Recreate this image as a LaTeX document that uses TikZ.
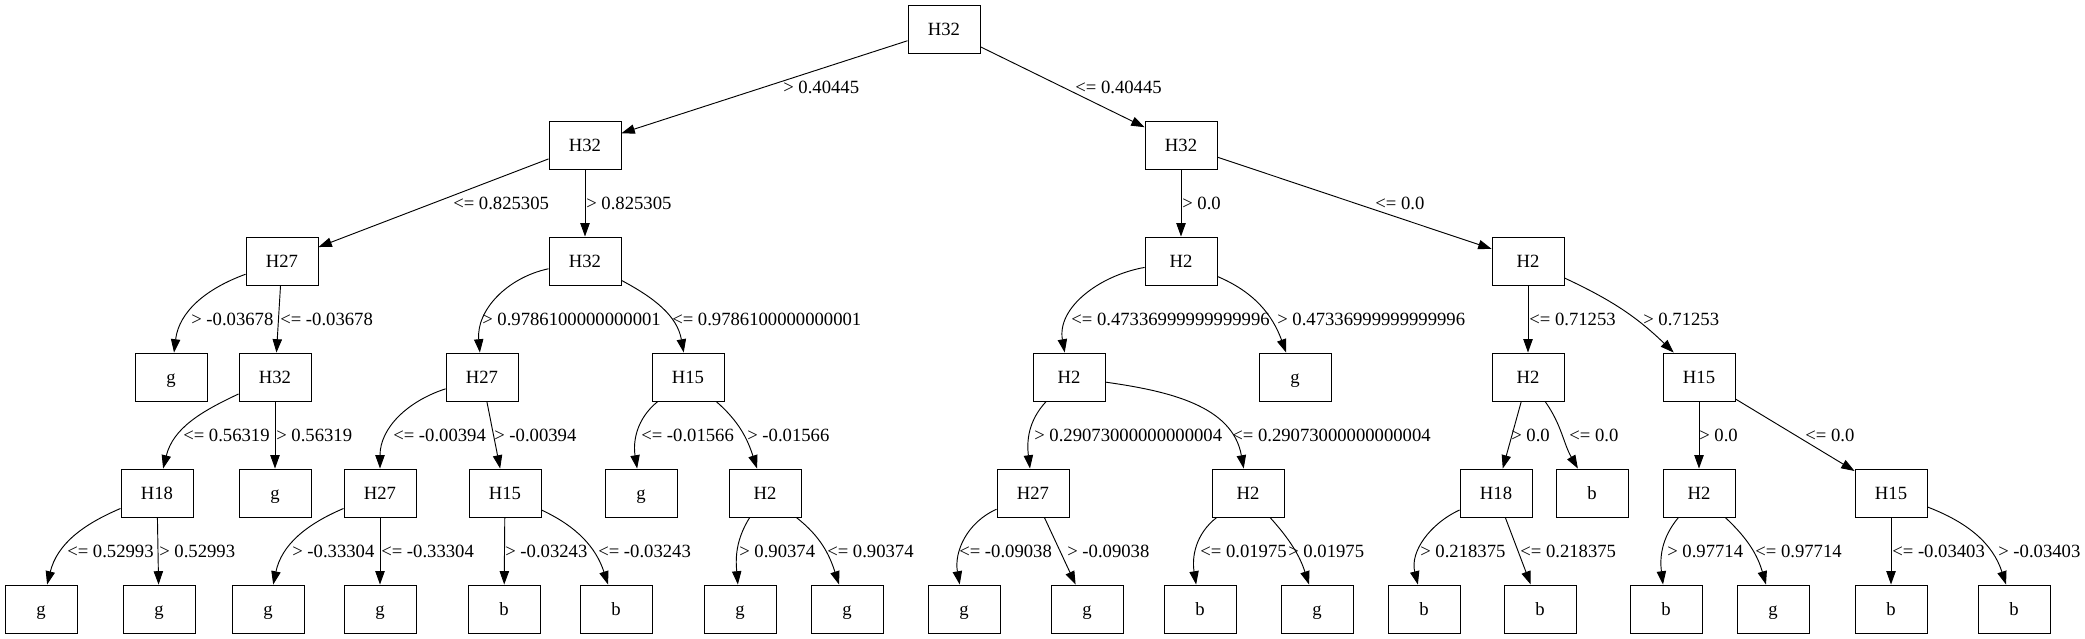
\documentclass[tikz,border=0pt]{standalone}
\usepackage{fontspec}
\setmainfont{Liberation Serif}
\usetikzlibrary{arrows.meta}
\tikzset{
  box/.style={draw,line width=0.7pt,minimum width=54pt,minimum height=36pt,inner sep=0pt,
    text height=9.3pt,text depth=0pt,font=\fontsize{14}{16}\selectfont},
  lbl/.style={anchor=west,inner sep=0pt,text height=9.3pt,text depth=0pt,font=\fontsize{14}{16}\selectfont},
  link/.style={line width=0.7pt,-{Triangle[length=10pt,width=7pt]}}
}
\begin{document}
\begin{tikzpicture}[x=0.75pt,y=0.75pt]
  \useasboundingbox (0,0) rectangle (2085,-639);
  \foreach \n/\x/\t in {a1/944/H32}
    \node[box] (\n) at (\x,-29) {\t};
  \foreach \n/\x/\t in {b1/585/H32,b2/1181/H32}
    \node[box] (\n) at (\x,-145) {\t};
  \foreach \n/\x/\t in {c1/282/H27,c2/585/H32,c3/1181/H2,c4/1528/H2}
    \node[box] (\n) at (\x,-261) {\t};
  \foreach \n/\x/\t in {d1/171/g,d2/275/H32,d3/482/H27,d4/688/H15,d5/1069/H2,d6/1295/g,d7/1528/H2,d8/1699/H15}
    \node[box] (\n) at (\x,-377) {\t};
  \foreach \n/\x/\t in {e1/157/H18,e2/275/g,e3/380/H27,e4/505/H15,e5/641/g,e6/765/H2,
      e7/1033/H27,e8/1248/H2,e9/1496/H18,e10/1592/b,e11/1699/H2,e12/1891/H15}
    \node[box] (\n) at (\x,-493) {\t};
  \foreach \n/\x/\t in {f1/41/g,f2/159/g,f3/268/g,f4/380/g,f5/504/b,f6/616/b,f7/740/g,f8/847/g,f9/964/g,
      f10/1087/g,f11/1200/b,f12/1317/g,f13/1424/b,f14/1540/b,f15/1666/b,f16/1773/g,f17/1891/b,f18/2014/b}
    \node[box] (\n) at (\x,-609) {\t};
  % straight splits
  \foreach \a/\b/\x/\y/\t in {
      a1/b1/783/87/> 0.40445, a1/b2/1075/87/<= 0.40445,
      b1/c1/453/203/<= 0.825305, b1/c2/586/203/> 0.825305,
      b2/c3/1182/203/> 0.0, b2/c4/1375/203/<= 0.0,
      c1/d2/280/319/<= -0.03678, c4/d7/1529/319/<= 0.71253,
      d2/e2/276/435/> 0.56319, d3/e4/494/435/> -0.00394,
      d7/e9/1511/435/> 0.0, d8/e11/1699/435/> 0.0, d8/e12/1805/435/<= 0.0,
      e1/f2/159/551/> 0.52993, e3/f4/381/551/<= -0.33304, e4/f5/505/551/> -0.03243,
      e7/f10/1067/551/> -0.09038, e9/f14/1520/551/<= 0.218375, e12/f17/1892/551/<= -0.03403}
  {
    \draw[link] (\a) -- (\b);
    \node[lbl] (l\b) at (\x,-\y) {\t};
  }
  % bent splits
  \foreach \a/\b/\o/\i/\x/\y/\t in {
      c1/d1/200/83/191/319/> -0.03678,
      c2/d3/192/95/482/319/> 0.9786100000000001, c2/d4/332/100/672/319/<= 0.9786100000000001,
      c3/d5/190/100/1071/319/<= 0.47336999999999996, c3/d6/337/110/1277/319/> 0.47336999999999996,
      c4/d8/335/136/1643/319/> 0.71253,
      d2/e1/205/76/183/435/<= 0.56319, d3/e3/198/90/393/435/<= -0.00394,
      d4/e5/219/99/641/435/<= -0.01566, d4/e6/319/108/747/435/> -0.01566,
      d5/e7/227/97/1034/435/> 0.29073000000000004, d5/e8/352/100/1232/435/<= 0.29073000000000004,
      d7/e10/305/120/1569/435/<= 0.0,
      e1/f1/203/76/67/551/<= 0.52993, e3/f3/203/78/292/551/> -0.33304,
      e4/f6/335/108/598/551/<= -0.03243,
      e6/f7/238/95/739/551/> 0.90374, e6/f8/322/108/827/551/<= 0.90374,
      e7/f9/204/100/959/551/<= -0.09038,
      e8/f11/218/99/1200/551/<= 0.01975, e8/f12/312/108/1288/551/> 0.01975,
      e9/f13/205/104/1420/551/> 0.218375,
      e11/f15/230/97/1667/551/> 0.97714, e11/f16/317/106/1755/551/<= 0.97714,
      e12/f18/339/108/1998/551/> -0.03403}
  {
    \draw[link] (\a) to[out=\o,in=\i] (\b);
    \node[lbl] (l\b) at (\x,-\y) {\t};
  }
\end{tikzpicture}
\end{document}
